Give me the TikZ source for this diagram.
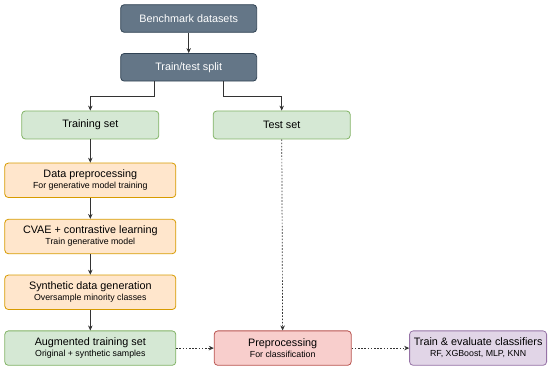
\documentclass[tikz,border=0pt]{standalone}
\usepackage{fontspec}
\setmainfont{Liberation Sans}
\usetikzlibrary{positioning,arrows.meta}
\definecolor{slatefill}{HTML}{647687}
\definecolor{slateline}{HTML}{314354}
\definecolor{greenfill}{HTML}{D5E8D4}
\definecolor{greenline}{HTML}{82B366}
\definecolor{orangefill}{HTML}{FFE6CC}
\definecolor{orangeline}{HTML}{D79B00}
\definecolor{redfill}{HTML}{F8CECC}
\definecolor{redline}{HTML}{B85450}
\definecolor{violetfill}{HTML}{E1D5E7}
\definecolor{violetline}{HTML}{9673A6}
\definecolor{wire}{HTML}{333333}
\newcommand{\subsize}{\fontsize{8.8}{10.5}\selectfont}
\tikzset{
  box/.style={rounded corners=3.5pt, line width=0.8pt, align=center,
              inner sep=0pt, font=\fontsize{10.8}{12}\selectfont},
  slatebox/.style={box, draw=slateline, fill=slatefill, text=white,
              minimum width=136pt, minimum height=27.6pt},
  greenbox/.style={box, draw=greenline, fill=greenfill,
              minimum width=137pt, minimum height=28pt},
  orangebox/.style={box, draw=orangeline, fill=orangefill,
              minimum width=171pt, minimum height=34.4pt},
  wideboxg/.style={greenbox, minimum width=171pt, minimum height=34.4pt},
  redbox/.style={box, draw=redline, fill=redfill,
              minimum width=137pt, minimum height=34.4pt},
  violetbox/.style={box, draw=violetline, fill=violetfill,
              minimum width=137pt, minimum height=34.4pt},
  flow/.style={wire, line width=0.7pt, -{Stealth[length=5pt,width=4.5pt]}},
  dotflow/.style={flow, dash pattern=on 1.6pt off 1.6pt}
}

\begin{document}
\begin{tikzpicture}[x=1pt, y=-1pt]
\useasboundingbox (0,0) rectangle (550,366);

% top of the pipeline
\node[slatebox] (bench) at (188.7,18.5) {Benchmark datasets};
\node[slatebox, below=20.4pt of bench] (split) {Train/test split};

% the two branches
\node[greenbox] (train) at (90.3,125) {Training set};
\node[greenbox] (test) at (281.7,125) {Test set};

% generative side
\node[orangebox, below=23.3pt of train] (prep)
  {Data preprocessing\\[-1pt]{\subsize For generative model training}};
\node[orangebox, below=21pt of prep] (cvae)
  {CVAE + contrastive learning\\[-1pt]{\subsize Train generative model}};
\node[orangebox, below=20.6pt of cvae] (synth)
  {Synthetic data generation\\[-1pt]{\subsize Oversample minority classes}};
\node[wideboxg, below=20.6pt of synth] (aug)
  {Augmented training set\\[-1pt]{\subsize Original + synthetic samples}};

% classification side
\node[redbox, right=37.6pt of aug] (clfprep)
  {Preprocessing\\[-1pt]{\subsize For classification}};
\node[violetbox, right=57.6pt of clfprep] (evalclf)
  {Train \& evaluate classifiers\\[-1pt]{\subsize RF, XGBoost, MLP, KNN}};

\draw[flow] (bench) -- (split);
\draw[flow] ([xshift=-34.5pt]split.south) -- ++(0,15) -| (train);
\draw[flow] ([xshift=34.5pt]split.south) -- ++(0,15) -| (test);
\draw[flow] (train) -- (prep);
\draw[flow] (prep) -- (cvae);
\draw[flow] (cvae) -- (synth);
\draw[flow] (synth) -- (aug);
\draw[dotflow] (test) -- (clfprep);
\draw[dotflow] (aug) -- (clfprep);
\draw[dotflow] (clfprep) -- (evalclf);
\end{tikzpicture}
\end{document}
